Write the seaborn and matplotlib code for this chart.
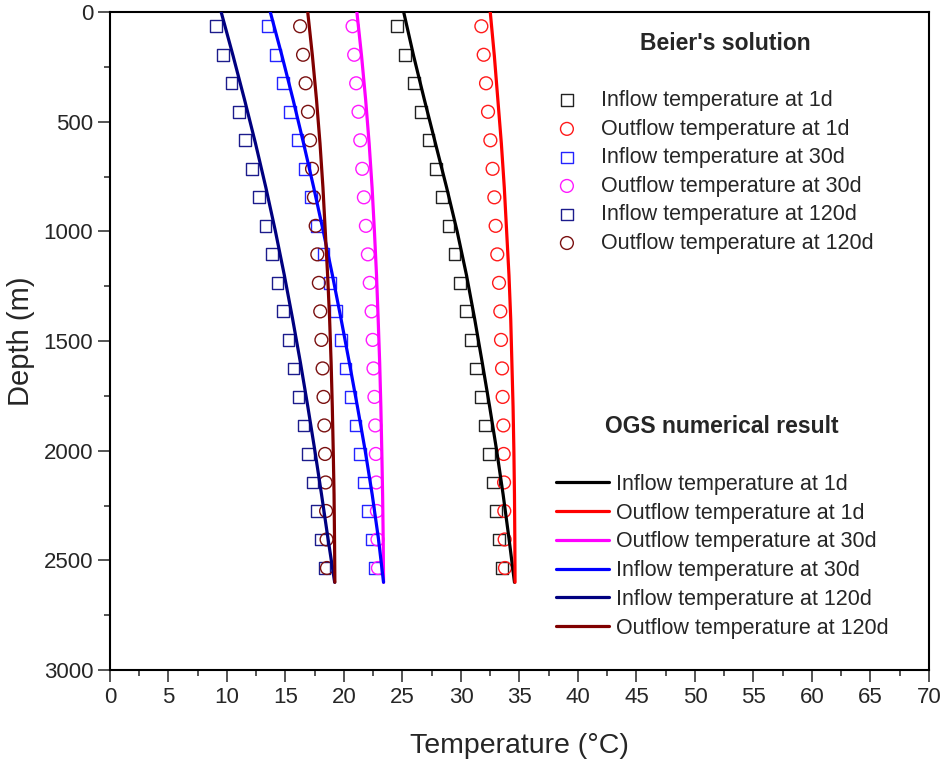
import seaborn as sns
import matplotlib.pyplot as plt
from matplotlib.ticker import MultipleLocator

# Beier's analytical solution (markers)
beier_depth = [65, 195, 325, 455, 585, 715, 845, 975, 1105, 1235,
               1365, 1495, 1625, 1755, 1885, 2015, 2145, 2275, 2405, 2535]
beier_in_1d = [24.52, 25.24, 25.95, 26.58, 27.23, 27.83, 28.40, 28.94, 29.45, 29.94,
               30.43, 30.86, 31.28, 31.68, 32.08, 32.42, 32.74, 33.02, 33.28, 33.51]
beier_out_1d = [31.74, 31.94, 32.14, 32.31, 32.51, 32.70, 32.85, 32.96, 33.10, 33.25,
                33.36, 33.42, 33.51, 33.56, 33.62, 33.65, 33.68, 33.70, 33.73, 33.76]
beier_in_30d = [13.46, 14.14, 14.77, 15.40, 16.02, 16.62, 17.17, 17.70, 18.25, 18.80,
                19.30, 19.72, 20.13, 20.55, 20.98, 21.37, 21.73, 22.07, 22.38, 22.68]
beier_out_30d = [20.73, 20.87, 21.04, 21.24, 21.39, 21.56, 21.70, 21.87, 22.04, 22.20,
                 22.36, 22.45, 22.52, 22.60, 22.67, 22.72, 22.76, 22.81, 22.86, 22.90]
beier_in_120d = [9.07, 9.69, 10.38, 11.00, 11.56, 12.17, 12.74, 13.29, 13.83, 14.31,
                 14.77, 15.25, 15.68, 16.11, 16.54, 16.94, 17.31, 17.68, 18.02, 18.33]
beier_out_120d = [16.25, 16.50, 16.72, 16.92, 17.10, 17.27, 17.43, 17.58, 17.72, 17.85,
                  17.97, 18.07, 18.17, 18.25, 18.32, 18.38, 18.43, 18.47, 18.51, 18.54]

# OGS numerical result (lines)
ogs_depth = [0, 200, 400, 600, 800, 1000, 1200, 1400, 1600, 1800, 2000, 2200, 2400, 2600]
ogs_in_1d = [25.10, 25.95, 26.87, 27.82, 28.77, 29.67, 30.47, 31.17, 31.82, 32.45,
             33.05, 33.60, 34.10, 34.57]
ogs_out_1d = [32.50, 32.85, 33.15, 33.45, 33.70, 33.90, 34.10, 34.25, 34.35, 34.45,
              34.52, 34.57, 34.60, 34.62]
ogs_out_30d = [21.10, 21.50, 21.85, 22.15, 22.40, 22.60, 22.78, 22.92, 23.05, 23.15,
               23.23, 23.30, 23.35, 23.38]
ogs_in_30d = [13.70, 14.70, 15.65, 16.55, 17.41, 18.23, 19.01, 19.75, 20.46, 21.15,
              21.81, 22.41, 22.94, 23.38]
ogs_in_120d = [9.50, 10.52, 11.50, 12.44, 13.32, 14.14, 14.90, 15.61, 16.28, 16.91,
               17.51, 18.08, 18.63, 19.20]
ogs_out_120d = [16.90, 17.30, 17.65, 17.95, 18.20, 18.40, 18.60, 18.77, 18.90, 19.00,
                19.08, 19.15, 19.19, 19.22]

sns.set_style("ticks")
plt.rcParams["font.family"] = ["Liberation Sans", "DejaVu Sans"]

fig = plt.figure(figsize=(9.45, 7.67), dpi=100)
ax = fig.add_axes([110 / 945, 1 - 670 / 767, 819 / 945, 658 / 767])

marker_series = [
    (beier_in_1d, "s", "#222222", "Inflow temperature at 1d"),
    (beier_out_1d, "o", "#ff1a1a", "Outflow temperature at 1d"),
    (beier_in_30d, "s", "#2424ff", "Inflow temperature at 30d"),
    (beier_out_30d, "o", "#ff1aff", "Outflow temperature at 30d"),
    (beier_in_120d, "s", "#1c1c8c", "Inflow temperature at 120d"),
    (beier_out_120d, "o", "#7a1010", "Outflow temperature at 120d"),
]
line_series = [
    (ogs_in_1d, "black", "Inflow temperature at 1d"),
    (ogs_out_1d, "red", "Outflow temperature at 1d"),
    (ogs_out_30d, "magenta", "Outflow temperature at 30d"),
    (ogs_in_30d, "blue", "Inflow temperature at 30d"),
    (ogs_in_120d, "navy", "Inflow temperature at 120d"),
    (ogs_out_120d, "maroon", "Outflow temperature at 120d"),
]

marker_handles = []
for vals, m, c, lab in marker_series:
    sns.scatterplot(x=vals, y=beier_depth, marker=m, s=85 if m == "o" else 72,
                    facecolor="none", edgecolor=c, linewidth=1.0, label=lab,
                    legend=False, ax=ax, zorder=2)
    marker_handles.append(ax.collections[-1])

line_handles = []
for vals, c, lab in line_series:
    sns.lineplot(x=vals, y=ogs_depth, sort=False, color=c, linewidth=2.3,
                 label=lab, legend=False, ax=ax, zorder=3)
    line_handles.append(ax.lines[-1])

ax.set_xlim(0, 70)
ax.set_ylim(3000, 0)
ax.xaxis.set_major_locator(MultipleLocator(5))
ax.xaxis.set_minor_locator(MultipleLocator(2.5))
ax.yaxis.set_major_locator(MultipleLocator(500))
ax.yaxis.set_minor_locator(MultipleLocator(250))
ax.tick_params(which="major", direction="out", length=8.5, width=1.1, labelsize=16)
ax.tick_params(which="minor", direction="out", length=4, width=1.1)
ax.tick_params(top=False, right=False)
for sp in ax.spines.values():
    sp.set_linewidth(1.5)
    sp.set_color("black")

ax.set_xlabel("Temperature (°C)", fontsize=20.5, labelpad=18)
ax.set_ylabel("Depth (m)", fontsize=21, labelpad=6)

fs = 15.5
leg1 = ax.legend(handles=marker_handles, labels=[h.get_label() for h in marker_handles],
                 loc="upper left", bbox_to_anchor=(554 / 945, 1 - 90 / 767),
                 bbox_transform=fig.transFigure, frameon=False, fontsize=fs,
                 scatterpoints=1, handlelength=1.2, handletextpad=1.0,
                 labelspacing=0.35, borderpad=0, borderaxespad=0)
ax.add_artist(leg1)
ax.legend(handles=line_handles, labels=[h.get_label() for h in line_handles],
          loc="upper left", bbox_to_anchor=(556 / 945, 1 - 474 / 767),
          bbox_transform=fig.transFigure, frameon=False, fontsize=fs,
          handlelength=2.47, handletextpad=0.3, labelspacing=0.36,
          borderpad=0, borderaxespad=0)

fig.text(725 / 945, 1 - 44 / 767, "Beier's solution", ha="center", va="center",
         fontsize=16.5, fontweight="bold")
fig.text(722 / 945, 1 - 426 / 767, "OGS numerical result", ha="center", va="center",
         fontsize=16.5, fontweight="bold")

fig.savefig("out.png", dpi=100)
